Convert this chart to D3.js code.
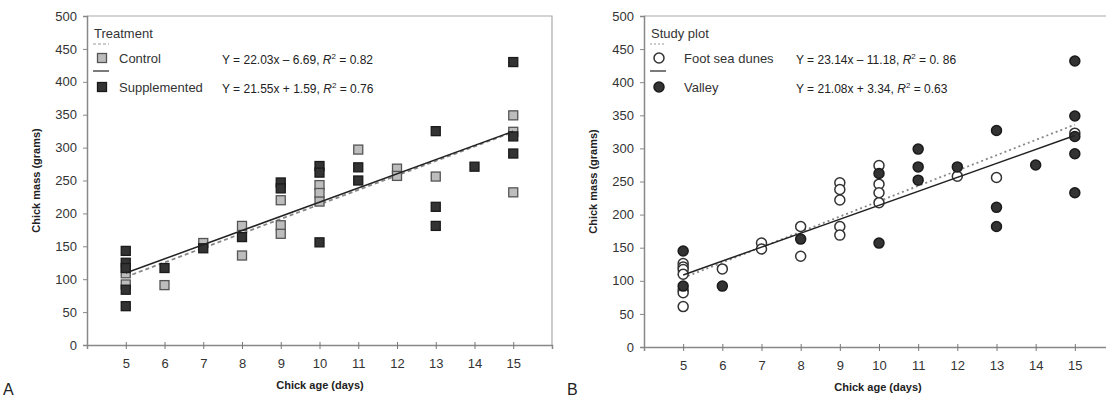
<!DOCTYPE html>
<html><head><meta charset="utf-8">
<script src="https://cdn.jsdelivr.net/npm/d3@7"></script>
<style>body{margin:0;background:#fff}svg{display:block;font-family:"Liberation Sans",Arial,sans-serif}</style>
</head><body>
<svg id="c" width="1106" height="400"></svg>
<script>
// ---- Data ----
const xTicks = [5,6,7,8,9,10,11,12,13,14,15];
const yTicks = [0,50,100,150,200,250,300,350,400,450,500];

// Panel A: Treatment
const controlPts = [[5,109],[5,92],[6,91],[7,155],[8,181],[8,136],[9,220],[9,182],[9,169],
  [10,243],[10,231],[10,218],[11,297],[12,268],[12,257],[13,256],[15,349],[15,324],[15,232]];
const supplementedPts = [[5,143],[5,125],[5,117],[5,84],[5,59],[6,117],[7,147],[8,164],
  [9,247],[9,238],[10,272],[10,262],[10,156],[11,270],[11,250],[13,325],[13,210],[13,181],
  [14,271],[15,430],[15,317],[15,291]];
const controlFit = [22.03, -6.69];
const supplementedFit = [21.55, 1.59];

// Panel B: Study plot
const dunesPts = [[5,126],[5,121],[5,117],[5,110],[5,86],[5,82],[5,61],[6,118],[7,157],[7,148],
  [8,182],[8,137],[9,248],[9,238],[9,222],[9,182],[9,169],[10,274],[10,246],[10,233],[10,218],
  [12,258],[13,256],[15,323]];
const valleyPts = [[5,145],[5,92],[6,92],[8,163],[10,262],[10,157],[11,299],[11,272],[11,252],
  [12,272],[13,327],[13,211],[13,182],[14,275],[15,432],[15,349],[15,318],[15,292],[15,233]];
const dunesFit = [23.14, -11.18];
const valleyFit = [21.08, 3.34];

const svg = d3.select("#c");

function panel(o){
  const g = svg.append("g");
  const x = d3.scaleLinear().domain([4,16]).range([o.x0, o.x1]);
  const y = d3.scaleLinear().domain([0,500]).range([o.y0, o.y1]);
  // frame
  g.append("path").attr("d",`M${o.x0},${o.y1}H${o.x1}V${o.y0}`).attr("fill","none").attr("stroke","#aaa").attr("stroke-width",1.2);
  // y axis
  const ya = g.append("g").attr("transform",`translate(${o.x0},0)`)
    .call(d3.axisLeft(y).tickValues(yTicks).tickSize(4).tickPadding(6));
  ya.select(".domain").attr("stroke","#888").attr("stroke-width",1.5);
  ya.selectAll(".tick line").attr("stroke","#888");
  ya.selectAll("text").attr("font-size",13).attr("fill","#333");
  // x axis
  const xa = g.append("g").attr("transform",`translate(0,${o.y0})`)
    .call(d3.axisBottom(x).tickValues(xTicks).tickSize(4).tickPadding(10));
  xa.select(".domain").attr("stroke","#888").attr("stroke-width",1.5);
  xa.selectAll(".tick line").attr("stroke","#777").attr("y1",-3);
  xa.selectAll("text").attr("font-size",13).attr("fill","#333");
  // axis titles
  g.append("text").attr("x",o.xt).attr("y",o.y0+44).attr("text-anchor","middle")
    .attr("font-size",11).attr("font-weight","bold").attr("fill","#222").text("Chick age (days)");
  g.append("text").attr("transform",`translate(${o.x0-47},${(o.y0+o.y1)/2}) rotate(-90)`).attr("text-anchor","middle")
    .attr("font-size",11).attr("font-weight","bold").attr("fill","#222").text("Chick mass (grams)");
  // fit lines
  const fl = (f,dash,col,w)=> g.append("line").attr("x1",x(5)).attr("x2",x(15))
    .attr("y1",y(f[0]*5+f[1])).attr("y2",y(f[0]*15+f[1])).attr("stroke",col).attr("stroke-width",w).attr("stroke-dasharray",dash);
  fl(o.fitA,o.dashA,"#888",1.8);
  // markers
  o.drawA(g, o.ptsA, x, y);
  o.drawB(g, o.ptsB, x, y);
  fl(o.fitB,null,"#222",1.5);
  // legend
  const lx = o.x0+7;
  g.append("text").attr("x",lx).attr("y",38).attr("font-size",13).attr("fill","#333").text(o.title);
  g.append("line").attr("x1",lx-1).attr("x2",lx+15).attr("y1",44).attr("y2",44).attr("stroke","#999").attr("stroke-width",1.2).attr("stroke-dasharray",o.legDash);
  g.append("line").attr("x1",lx-1).attr("x2",lx+15).attr("y1",71).attr("y2",71).attr("stroke","#222").attr("stroke-width",1.2);
  o.drawA(g, [[null,null]], ()=>lx+8, ()=>58);
  o.drawB(g, [[null,null]], ()=>lx+8, ()=>87);
  g.append("text").attr("x",o.labX).attr("y",63).attr("font-size",13).attr("fill","#333").text(o.nameA);
  g.append("text").attr("x",o.labX).attr("y",92).attr("font-size",13).attr("fill","#333").text(o.nameB);
  const eq = (yy, s, r)=>{
    const t = g.append("text").attr("x",o.eqX).attr("y",yy).attr("font-size",12).attr("fill","#222");
    t.append("tspan").text(s+", ");
    t.append("tspan").attr("font-style","italic").text("R");
    t.append("tspan").attr("font-size",8).attr("dy",-5).text("2");
    t.append("tspan").attr("dy",5).text(" = "+r);
  };
  eq(64, o.eqA, o.rA);
  eq(93, o.eqB, o.rB);
  svg.append("text").attr("x",o.letterX).attr("y",395).attr("font-size",16).attr("fill","#222").text(o.letter);
}

const sq = (fill, stroke)=> (g, pts, x, y)=> g.append("g").selectAll("rect").data(pts).join("rect")
  .attr("x",d=>x(d[0])-4.5).attr("y",d=>y(d[1])-4.5).attr("width",9).attr("height",9)
  .attr("fill",fill).attr("stroke",stroke).attr("stroke-width",1.3);
const ci = (fill, stroke)=> (g, pts, x, y)=> g.append("g").selectAll("circle").data(pts).join("circle")
  .attr("cx",d=>x(d[0])).attr("cy",d=>y(d[1])).attr("r",5)
  .attr("fill",fill).attr("stroke",stroke).attr("stroke-width",1.5);

panel({x0:87, x1:552, y0:345, y1:16, xt:320, letter:"A", letterX:3,
  ptsA:controlPts, ptsB:supplementedPts, fitA:controlFit, fitB:supplementedFit,
  drawA:sq("#bdbdbd","#555"), drawB:sq("#333","#1a1a1a"), dashA:"4,3", legDash:"3,2",
  title:"Treatment", nameA:"Control", nameB:"Supplemented", labX:119, eqX:222,
  eqA:"Y = 22.03x \u2013 6.69", rA:"0.82", eqB:"Y = 21.55x + 1.59", rB:"0.76"});

panel({x0:644, x1:1114, y0:347, y1:16, xt:878, letter:"B", letterX:567,
  ptsA:dunesPts, ptsB:valleyPts, fitA:dunesFit, fitB:valleyFit,
  drawA:ci("#fff","#333"), drawB:ci("#333","#1a1a1a"), dashA:"2,3", legDash:"2,2",
  title:"Study plot", nameA:"Foot sea dunes", nameB:"Valley", labX:684, eqX:796,
  eqA:"Y = 23.14x \u2013 11.18", rA:"0. 86", eqB:"Y = 21.08x + 3.34", rB:"0.63"});
</script>
</body></html>
